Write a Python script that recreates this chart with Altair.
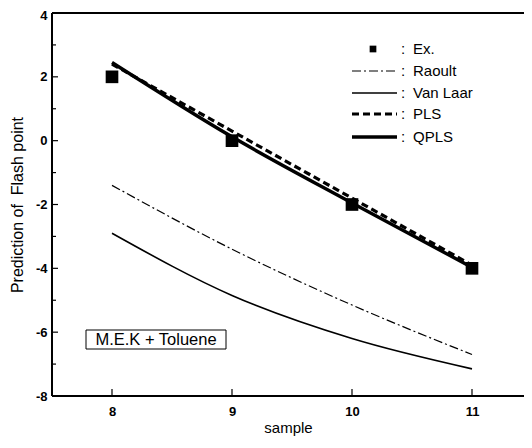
import altair as alt
import pandas as pd

samples = [8, 9, 10, 11]
ex_vals = [2.0, 0.0, -2.0, -4.0]
raoult_vals = [-1.4, -3.4, -5.15, -6.7]
vanlaar_vals = [-2.9, -4.85, -6.2, -7.15]
pls_vals = [2.4, 0.3, -1.8, -3.9]
qpls_vals = [2.45, 0.12, -1.95, -3.97]
y_ticks = [4, 2, 0, -2, -4, -6, -8]
y_minor = [3, 1, -1, -3, -5, -7]
x_ticks = [8, 9, 10, 11]

legend_names = ["Ex.", "Raoult", "Van Laar", "PLS", "QPLS"]

W, H = 472, 383
FONT = "Liberation Sans"

def series(vals, name):
    return pd.DataFrame({"sample": samples, "val": vals, "s": name})

xs = alt.Scale(domain=[7.5, 7.5 + W / 120], nice=False, zero=False)
ys = alt.Scale(domain=[-8, 4], nice=False, zero=False)

X = alt.X("sample:Q", scale=xs,
          axis=alt.Axis(values=x_ticks, ticks=False, domain=False, grid=False,
                        labelExpr="toString(datum.value)",
                        labelFontSize=13, labelFontWeight="bold", labelPadding=9,
                        labelFont=FONT, labelColor="black",
                        title="sample", titleFontSize=15, titleFontWeight="normal",
                        titleFont=FONT, titlePadding=2, titleColor="black"))
Y = alt.Y("val:Q", scale=ys,
          axis=alt.Axis(values=y_ticks, ticks=False, domain=False, grid=False,
                        labelExpr="toString(datum.value)",
                        labelOffset={"condition": {"test": "datum.value == 4", "value": 2},
                                     "value": 0},
                        labelFontSize=13, labelFontWeight="bold", labelPadding=5,
                        labelFont=FONT, labelColor="black",
                        title="Prediction of\u00a0 Flash point", titleFontSize=16,
                        titleFontWeight="normal", titleFont=FONT, titlePadding=10,
                        titleColor="black"))

def line(vals, name, width, dash=None):
    kw = dict(color="black", strokeWidth=width, interpolate="monotone")
    if dash:
        kw["strokeDash"] = dash
    return alt.Chart(series(vals, name)).mark_line(**kw).encode(x=X, y=Y)

raoult = line(raoult_vals, "Raoult", 1.2, [9, 3, 2, 3])
vanlaar = line(vanlaar_vals, "Van Laar", 1.6)
pls = line(pls_vals, "PLS", 3.2, [7, 4])
qpls = line(qpls_vals, "QPLS", 3.4)
ex = alt.Chart(series(ex_vals, "Ex.")).mark_point(
    shape="square", filled=True, color="black", size=160, opacity=1).encode(x=X, y=Y)

one = pd.DataFrame({"a": [0]})

# frame (left, bottom, top; right edge lies outside the picture)
frame = [
    alt.Chart(one).mark_rule(color="black", strokeWidth=2).encode(
        x=alt.value(0), y=alt.value(0), y2=alt.value(H)),
    alt.Chart(one).mark_rule(color="black", strokeWidth=2).encode(
        x=alt.value(0), x2=alt.value(W), y=alt.value(H)),
    alt.Chart(one).mark_rule(color="black", strokeWidth=2).encode(
        x=alt.value(0), x2=alt.value(W), y=alt.value(0)),
]

# inward ticks
yt = pd.DataFrame({"v": y_ticks})
ym = pd.DataFrame({"v": y_minor})
xt = pd.DataFrame({"v": x_ticks})
ytick = alt.Chart(yt).mark_rule(color="black", strokeWidth=1.2).encode(
    y=alt.Y("v:Q", scale=ys), x=alt.value(0), x2=alt.value(6))
ymtick = alt.Chart(ym).mark_rule(color="black", strokeWidth=1.2).encode(
    y=alt.Y("v:Q", scale=ys), x=alt.value(0), x2=alt.value(4))
xtick = alt.Chart(xt).mark_rule(color="black", strokeWidth=1.2).encode(
    x=alt.X("v:Q", scale=xs), y=alt.value(H), y2=alt.value(H - 7))

# legend
ly = [36, 58, 80, 101, 124]
leg_layers = []
leg_layers.append(alt.Chart(one).mark_point(
    shape="square", filled=True, color="black", size=45, opacity=1).encode(
    x=alt.value(321), y=alt.value(ly[0])))
styles = [(1.2, [9, 3, 2, 3]), (1.6, None), (3.2, [7, 4]), (3.4, None)]
for i, (w, d) in enumerate(styles):
    kw = dict(color="black", strokeWidth=w)
    if d:
        kw["strokeDash"] = d
    leg_layers.append(alt.Chart(one).mark_rule(**kw).encode(
        x=alt.value(300), x2=alt.value(345), y=alt.value(ly[i + 1])))
for i, n in enumerate(legend_names):
    leg_layers.append(alt.Chart(pd.DataFrame({"t": [":"]})).mark_text(
        align="left", baseline="middle", fontSize=15, font=FONT, color="black").encode(
        text="t:N", x=alt.value(349), y=alt.value(ly[i])))
    leg_layers.append(alt.Chart(pd.DataFrame({"t": [n]})).mark_text(
        align="left", baseline="middle", fontSize=15, font=FONT, color="black").encode(
        text="t:N", x=alt.value(361), y=alt.value(ly[i])))

# annotation box
box = alt.Chart(one).mark_rect(
    fill="white", stroke="black", strokeWidth=1).encode(
    x=alt.value(34), x2=alt.value(174), y=alt.value(317), y2=alt.value(336))
boxtext = alt.Chart(pd.DataFrame({"t": ["M.E.K + Toluene"]})).mark_text(
    align="center", baseline="middle", fontSize=16.5, font=FONT, color="black").encode(
    text="t:N", x=alt.value(104), y=alt.value(327))

chart = alt.layer(raoult, vanlaar, pls, qpls, ex, *frame, ytick, ymtick, xtick,
                  box, boxtext, *leg_layers).properties(
    width=W, height=H,
    autosize=alt.AutoSizeParams(type="none"),
    padding={"left": 44, "top": 5, "right": 0, "bottom": 40},
    background="white",
).configure_view(strokeWidth=0, stroke=None)

chart.save("out.html", embed_options={"renderer": "svg", "actions": False})
